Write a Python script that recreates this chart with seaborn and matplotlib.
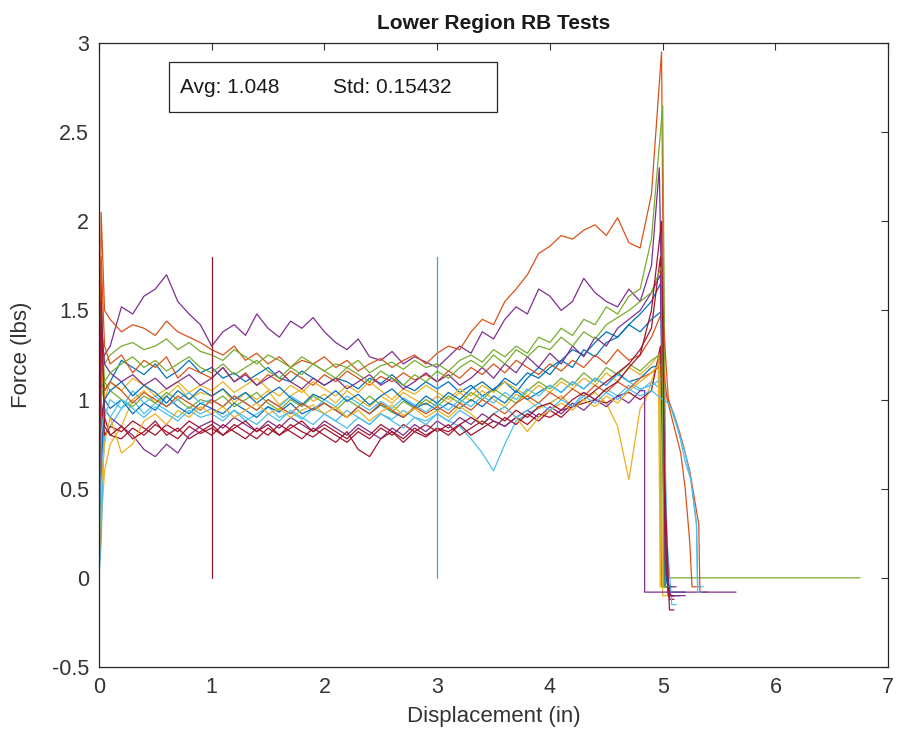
import numpy as np
import pandas as pd
import matplotlib
matplotlib.use("Agg")
import matplotlib.pyplot as plt
import seaborn as sns
from matplotlib.patches import Rectangle

# ---------------- data ----------------
X_BODY = [0.1, 0.2, 0.3, 0.4, 0.5, 0.6, 0.7, 0.8, 0.9,
          1.0, 1.1, 1.2, 1.3, 1.4, 1.5, 1.6, 1.7, 1.8, 1.9,
          2.0, 2.1, 2.2, 2.3, 2.4, 2.5, 2.6, 2.7, 2.8, 2.9,
          3.0, 3.1, 3.2, 3.3, 3.4, 3.5, 3.6, 3.7, 3.8, 3.9,
          4.0, 4.1, 4.2, 4.3, 4.4, 4.5, 4.6, 4.7, 4.8]

MATLAB_COLORS = ["#0072BD", "#D95319", "#EDB120", "#7E2F8E", "#77AC30", "#4DBEEE", "#A2142F"]

# each test: colour index, head points (x, y), body values on X_BODY, tail points (x, y)
test_color = [3, 1, 4, 0, 5, 2, 6, 0, 1, 2, 3, 4, 5, 6, 0, 1, 2, 3, 4, 5, 6]

head_x = [0.0, 0.02, 0.05]
head_y = [
    [0.0, 1.20, 1.25], [0.0, 2.05, 1.50], [0.0, 1.40, 1.20], [0.0, 1.10, 1.05],
    [0.0, 0.40, 0.80], [0.0, 0.30, 0.60], [0.0, 1.65, 0.90], [0.0, 0.90, 1.00],
    [0.0, 1.80, 1.30], [0.0, 1.20, 1.00], [0.0, 0.70, 0.95], [0.0, 1.50, 1.10],
    [0.0, 0.20, 0.90], [0.0, 1.00, 0.80], [0.0, 0.60, 1.00], [0.0, 1.30, 1.05],
    [0.0, 0.50, 0.75], [0.0, 1.45, 1.20], [0.0, 1.00, 1.10], [0.0, 0.80, 0.95],
    [0.0, 1.55, 0.85],
]

body = [
    [1.30, 1.52, 1.48, 1.58, 1.62, 1.70, 1.55, 1.48, 1.42,
     1.30, 1.38, 1.42, 1.36, 1.48, 1.40, 1.35, 1.44, 1.40, 1.46,
     1.38, 1.32, 1.28, 1.34, 1.24, 1.22, 1.27, 1.20, 1.24, 1.21,
     1.18, 1.24, 1.30, 1.26, 1.38, 1.34, 1.45, 1.52, 1.48, 1.62,
     1.58, 1.50, 1.55, 1.68, 1.60, 1.55, 1.52, 1.62, 1.55],
    [1.45, 1.38, 1.42, 1.40, 1.36, 1.44, 1.38, 1.35, 1.32,
     1.28, 1.25, 1.30, 1.22, 1.26, 1.20, 1.24, 1.18, 1.22, 1.20,
     1.24, 1.18, 1.22, 1.16, 1.20, 1.23, 1.18, 1.22, 1.25, 1.20,
     1.26, 1.30, 1.28, 1.38, 1.45, 1.42, 1.55, 1.62, 1.70, 1.82,
     1.86, 1.92, 1.90, 1.95, 1.98, 1.92, 2.02, 1.88, 1.85],
    [1.25, 1.30, 1.32, 1.28, 1.30, 1.34, 1.28, 1.32, 1.27,
     1.25, 1.22, 1.28, 1.24, 1.20, 1.25, 1.22, 1.18, 1.24, 1.20,
     1.16, 1.20, 1.18, 1.22, 1.15, 1.19, 1.21, 1.17, 1.22, 1.18,
     1.20, 1.16, 1.22, 1.25, 1.21, 1.28, 1.24, 1.30, 1.26, 1.35,
     1.32, 1.40, 1.36, 1.45, 1.42, 1.52, 1.48, 1.58, 1.62],
    [1.10, 1.22, 1.18, 1.14, 1.20, 1.12, 1.16, 1.22, 1.15,
     1.18, 1.12, 1.15, 1.10, 1.14, 1.18, 1.12, 1.10, 1.16, 1.12,
     1.08, 1.12, 1.10, 1.06, 1.12, 1.09, 1.14, 1.08, 1.05, 1.10,
     1.06, 1.10, 1.04, 1.08, 1.02, 1.06, 1.10, 1.04, 1.12, 1.18,
     1.14, 1.22, 1.18, 1.28, 1.24, 1.32, 1.35, 1.42, 1.48],
    [0.85, 0.95, 1.00, 0.92, 0.98, 0.94, 0.90, 0.96, 0.92,
     0.95, 0.90, 0.94, 0.88, 0.92, 0.96, 0.90, 0.93, 0.89, 0.95,
     0.92, 0.88, 0.94, 0.90, 0.86, 0.92, 0.89, 0.94, 0.90, 0.88,
     0.92, 0.88, 0.85, 0.78, 0.70, 0.60, 0.75, 0.88, 0.92, 0.95,
     0.98, 1.02, 0.96, 1.04, 1.00, 1.06, 1.02, 1.08, 1.05],
    [0.75, 0.85, 1.00, 1.05, 0.98, 1.02, 1.08, 1.00, 1.04,
     1.02, 1.06, 0.98, 1.04, 1.00, 1.05, 0.97, 1.02, 1.06, 0.99,
     1.03, 0.98, 1.05, 1.00, 0.96, 1.02, 0.98, 1.04, 1.00, 0.97,
     1.02, 0.98, 1.04, 0.99, 1.05, 1.00, 0.96, 1.03, 1.00, 0.95,
     0.98, 1.02, 0.96, 1.00, 1.04, 0.98, 0.85, 0.55, 0.95],
    [0.80, 0.78, 0.84, 0.80, 0.86, 0.82, 0.78, 0.85, 0.81,
     0.84, 0.80, 0.86, 0.82, 0.78, 0.84, 0.80, 0.86, 0.82, 0.79,
     0.84, 0.80, 0.76, 0.82, 0.78, 0.84, 0.80, 0.86, 0.82, 0.79,
     0.84, 0.82, 0.86, 0.80, 0.84, 0.88, 0.85, 0.90, 0.86, 0.92,
     0.90, 0.94, 0.96, 0.98, 1.00, 0.98, 1.02, 1.04, 1.00],
    [0.95, 1.00, 0.92, 0.98, 0.94, 1.02, 0.96, 0.92, 0.98,
     0.95, 0.92, 0.98, 0.94, 0.90, 0.96, 0.93, 0.98, 0.92, 0.95,
     0.98, 0.94, 0.90, 0.96, 0.92, 0.97, 0.93, 0.90, 0.95, 0.98,
     0.94, 0.98, 0.95, 1.00, 0.96, 1.02, 0.98, 1.05, 1.00, 1.04,
     1.08, 1.04, 1.10, 1.06, 1.12, 1.08, 1.15, 1.10, 1.12],
    [1.20, 1.25, 1.15, 1.22, 1.18, 1.24, 1.12, 1.18, 1.15,
     1.12, 1.18, 1.10, 1.15, 1.08, 1.14, 1.10, 1.16, 1.12, 1.08,
     1.14, 1.10, 1.16, 1.12, 1.08, 1.13, 1.10, 1.15, 1.11, 1.14,
     1.10, 1.16, 1.12, 1.18, 1.14, 1.20, 1.15, 1.22, 1.18, 1.14,
     1.20, 1.16, 1.22, 1.18, 1.25, 1.20, 1.28, 1.22, 1.25],
    [1.10, 1.05, 1.12, 1.08, 1.02, 1.06, 1.10, 1.04, 1.08,
     1.05, 1.10, 1.04, 1.08, 1.12, 1.06, 1.02, 1.08, 1.04, 1.10,
     1.06, 1.02, 1.08, 1.04, 1.10, 1.05, 1.00, 1.06, 1.03, 1.08,
     1.04, 1.00, 1.06, 1.02, 1.08, 1.04, 1.10, 1.06, 1.02, 1.08,
     1.04, 1.10, 1.06, 1.12, 1.08, 1.15, 1.10, 1.18, 1.14],
    [0.90, 0.85, 0.80, 0.72, 0.68, 0.75, 0.70, 0.80, 0.85,
     0.88, 0.84, 0.90, 0.86, 0.82, 0.88, 0.84, 0.90, 0.86, 0.82,
     0.88, 0.84, 0.80, 0.86, 0.82, 0.78, 0.84, 0.80, 0.86, 0.82,
     0.88, 0.84, 0.90, 0.86, 0.92, 0.88, 0.85, 0.90, 0.94, 0.90,
     0.96, 0.92, 0.98, 0.94, 1.00, 0.96, 1.02, 0.98, 1.05],
    [1.05, 1.00, 0.96, 1.02, 0.98, 1.04, 1.00, 0.95, 1.00,
     0.98, 1.02, 0.96, 1.00, 1.04, 0.98, 0.94, 1.00, 0.96, 1.02,
     0.98, 0.94, 1.00, 0.96, 1.02, 0.97, 0.93, 0.99, 0.95, 1.00,
     0.96, 1.02, 0.98, 1.04, 1.00, 1.06, 1.02, 0.98, 1.05, 1.10,
     1.06, 1.12, 1.08, 1.15, 1.10, 1.18, 1.14, 1.20, 1.16],
    [1.00, 0.95, 1.05, 0.98, 1.02, 0.96, 1.00, 1.04, 0.98,
     1.00, 0.96, 1.02, 0.98, 0.94, 1.00, 0.96, 1.02, 0.98, 0.94,
     1.00, 0.96, 1.02, 0.98, 0.94, 0.99, 0.95, 1.01, 0.97, 0.93,
     0.98, 0.94, 1.00, 0.96, 1.02, 0.98, 1.04, 1.00, 1.06, 1.02,
     1.08, 1.04, 1.10, 1.06, 1.12, 1.08, 1.14, 1.10, 1.06],
    [0.85, 0.82, 0.88, 0.84, 0.80, 0.86, 0.82, 0.88, 0.84,
     0.80, 0.86, 0.82, 0.78, 0.84, 0.80, 0.86, 0.82, 0.78, 0.84,
     0.80, 0.76, 0.82, 0.72, 0.68, 0.78, 0.82, 0.76, 0.82, 0.86,
     0.82, 0.86, 0.80, 0.84, 0.88, 0.84, 0.90, 0.86, 0.92, 0.88,
     0.94, 0.90, 0.96, 1.00, 1.05, 1.10, 1.15, 1.20, 1.28],
    [1.05, 1.10, 1.02, 1.08, 1.04, 0.98, 1.05, 1.00, 1.06,
     1.02, 1.06, 1.00, 1.04, 0.98, 1.03, 1.07, 1.01, 0.97, 1.03,
     1.00, 1.05, 0.99, 1.03, 0.97, 1.02, 1.06, 1.00, 0.96, 1.02,
     0.98, 1.04, 1.00, 1.06, 1.10, 1.05, 1.12, 1.08, 1.15, 1.12,
     1.18, 1.22, 1.28, 1.25, 1.32, 1.38, 1.35, 1.42, 1.38],
    [1.10, 1.05, 0.98, 1.04, 1.00, 0.96, 1.02, 0.98, 0.94,
     1.00, 0.96, 1.02, 0.98, 0.94, 1.00, 0.96, 0.92, 0.98, 0.94,
     0.98, 0.94, 0.90, 0.96, 0.92, 0.98, 0.94, 0.90, 0.96, 0.92,
     0.96, 0.92, 0.98, 0.94, 1.00, 0.96, 0.92, 0.98, 1.02, 0.98,
     1.04, 1.00, 1.06, 1.02, 1.08, 1.04, 1.10, 1.06, 1.12],
    [0.90, 0.70, 0.75, 0.88, 0.92, 0.86, 0.94, 0.90, 0.96,
     0.92, 0.96, 0.90, 0.94, 0.98, 0.92, 0.95, 0.90, 0.94, 0.97,
     0.92, 0.96, 0.90, 0.94, 0.88, 0.93, 0.97, 0.91, 0.95, 0.90,
     0.94, 0.90, 0.96, 0.92, 0.86, 0.92, 0.96, 0.90, 0.82, 0.90,
     0.94, 0.98, 0.94, 1.00, 0.96, 1.02, 0.98, 1.05, 1.10],
    [1.15, 1.10, 1.14, 1.08, 1.12, 1.06, 1.10, 1.14, 1.08,
     1.12, 1.18, 1.10, 1.14, 1.08, 1.12, 1.16, 1.10, 1.06, 1.12,
     1.08, 1.12, 1.06, 1.10, 1.14, 1.08, 1.12, 1.06, 1.10, 1.15,
     1.10, 1.14, 1.08, 1.12, 1.18, 1.12, 1.20, 1.15, 1.24, 1.18,
     1.26, 1.20, 1.30, 1.24, 1.35, 1.30, 1.40, 1.45, 1.50],
    [1.15, 1.20, 1.24, 1.18, 1.22, 1.16, 1.20, 1.24, 1.18,
     1.15, 1.20, 1.14, 1.18, 1.22, 1.16, 1.12, 1.18, 1.14, 1.20,
     1.16, 1.12, 1.18, 1.14, 1.10, 1.16, 1.12, 1.08, 1.14, 1.10,
     1.16, 1.12, 1.18, 1.22, 1.18, 1.25, 1.20, 1.28, 1.24, 1.30,
     1.28, 1.35, 1.30, 1.38, 1.34, 1.42, 1.46, 1.50, 1.55],
    [0.90, 1.00, 0.95, 0.90, 0.96, 0.92, 0.88, 0.94, 0.90,
     0.92, 0.88, 0.94, 0.90, 0.86, 0.92, 0.88, 0.94, 0.90, 0.86,
     0.92, 0.88, 0.84, 0.90, 0.86, 0.92, 0.88, 0.84, 0.90, 0.86,
     0.92, 0.88, 0.94, 0.90, 0.86, 0.92, 0.96, 0.90, 0.94, 0.98,
     0.94, 1.00, 0.96, 1.02, 0.98, 1.04, 1.00, 1.06, 1.02],
    [0.80, 0.85, 0.78, 0.82, 0.88, 0.80, 0.84, 0.78, 0.82,
     0.86, 0.80, 0.84, 0.88, 0.82, 0.86, 0.80, 0.84, 0.88, 0.82,
     0.86, 0.82, 0.78, 0.84, 0.80, 0.86, 0.82, 0.78, 0.84, 0.80,
     0.84, 0.80, 0.86, 0.90, 0.86, 0.92, 0.88, 0.94, 0.90, 0.96,
     0.98, 0.94, 1.00, 1.04, 1.00, 1.06, 1.10, 1.18, 1.25],
]

tail = [
    [(4.90, 1.75), (4.97, 2.30), (5.00, 1.20), (5.02, -0.05), (5.12, -0.05)],
    [(4.90, 2.15), (4.99, 2.95), (5.02, 0.40), (5.05, -0.10), (5.10, -0.10)],
    [(4.90, 1.90), (5.00, 2.65), (5.03, 0.20), (5.06, 0.00), (6.75, 0.00)],
    [(4.90, 1.55), (4.98, 1.65), (5.02, 0.10), (5.05, -0.08), (5.20, -0.08)],
    [(4.90, 1.10), (5.00, 1.05), (5.05, 1.00), (5.10, 0.90), (5.15, 0.80), (5.20, 0.65),
     (5.25, 0.55), (5.28, 0.40), (5.30, 0.30), (5.31, -0.05), (5.36, -0.05)],
    [(4.85, 1.00), (4.95, 1.20), (4.98, 1.25), (5.00, -0.10), (5.04, -0.10)],
    [(4.90, 1.05), (4.98, 1.30), (5.02, 0.10), (5.06, -0.12), (5.10, -0.12)],
    [(4.90, 1.18), (5.00, 1.20), (5.03, 0.00), (5.06, -0.10), (5.15, -0.10)],
    [(4.90, 1.35), (5.00, 1.50), (5.05, 1.00), (5.12, 0.88), (5.18, 0.75), (5.24, 0.60),
     (5.28, 0.45), (5.32, 0.30), (5.33, -0.08), (5.40, -0.08)],
    [(4.90, 1.20), (4.96, 1.25), (4.98, -0.05), (5.02, -0.05)],
    [(4.84, 1.05), (4.84, -0.08), (5.65, -0.08)],
    [(4.90, 1.22), (4.97, 1.25), (4.99, -0.05), (5.05, -0.05)],
    [(4.90, 1.08), (5.00, 1.12), (5.04, 0.20), (5.08, -0.15), (5.12, -0.15)],
    [(4.90, 1.40), (4.98, 1.80), (5.02, 0.50), (5.06, -0.18), (5.10, -0.18)],
    [(4.90, 1.45), (5.00, 1.50), (5.02, -0.05), (5.08, -0.05)],
    [(4.90, 1.15), (5.00, 1.20), (5.04, 1.00), (5.10, 0.85), (5.16, 0.70), (5.20, 0.50),
     (5.24, 0.20), (5.26, -0.05), (5.30, -0.05)],
    [(4.90, 1.15), (4.97, 1.20), (4.98, -0.05), (5.00, -0.05)],
    [(4.90, 1.60), (4.98, 1.70), (5.02, 0.10), (5.07, -0.10), (5.20, -0.10)],
    [(4.90, 1.60), (4.99, 1.75), (5.01, -0.05), (5.05, -0.05)],
    [(4.90, 1.05), (5.00, 1.00), (5.05, 0.98), (5.10, 0.92), (5.15, 0.80), (5.20, 0.70),
     (5.25, 0.55), (5.28, 0.40), (5.30, 0.30), (5.31, -0.08), (5.34, -0.08)],
    [(4.90, 1.50), (4.99, 2.00), (5.02, 0.30), (5.05, -0.10), (5.10, -0.10)],
]

# region markers (vertical lines at 1 in and 3 in)
marker_x = [1.0, 3.0]
marker_y = [0.0, 1.8]
marker_color = ["#8E1B2C", "#3FA9C8"]

avg_text = "Avg: 1.048"
std_text = "Std: 0.15432"

# ---------------- build table ----------------
rows = []
for i in range(len(body)):
    xs = list(head_x) + list(X_BODY) + [p[0] for p in tail[i]]
    ys = list(head_y[i]) + list(body[i]) + [p[1] for p in tail[i]]
    for j, (xx, yy) in enumerate(zip(xs, ys)):
        rows.append({"test": f"t{i}", "order": j, "x": xx, "y": yy})
for k, mx in enumerate(marker_x):
    for j, my in enumerate(marker_y):
        rows.append({"test": f"m{k}", "order": j, "x": mx, "y": my})
df = pd.DataFrame(rows)

palette = {f"t{i}": MATLAB_COLORS[c] for i, c in enumerate(test_color)}
palette.update({f"m{k}": c for k, c in enumerate(marker_color)})

# ---------------- plot ----------------
sns.set_style("white")
plt.rcParams["font.family"] = ["Liberation Sans", "DejaVu Sans"]

fig = plt.figure(figsize=(8.99, 7.44), dpi=100)
ax = fig.add_axes([0.110, 0.1035, 0.878, 0.8387])

sns.lineplot(data=df, x="x", y="y", hue="test", palette=palette, sort=False,
             estimator=None, legend=False, linewidth=0.9, ax=ax)

ax.set_xlim(0, 7)
ax.set_ylim(-0.5, 3)
ax.set_xticks([0, 1, 2, 3, 4, 5, 6, 7])
ax.set_yticks([-0.5, 0, 0.5, 1, 1.5, 2, 2.5, 3])
ax.set_yticklabels(["-0.5", "0", "0.5", "1", "1.5", "2", "2.5", "3"])
ax.tick_params(direction="in", top=True, right=True, length=5, width=0.8,
               labelsize=15.5, colors="#333333", pad=7)
for s in ax.spines.values():
    s.set_visible(True)
    s.set_color("#262626")
    s.set_linewidth(0.9)

ax.set_xlabel("Displacement (in)", fontsize=16, color="#333333", labelpad=6)
ax.set_ylabel("Force (lbs)", fontsize=16, color="#333333", labelpad=14)
ax.set_title("Lower Region RB Tests", fontsize=15, fontweight="bold", color="#1a1a1a", pad=10)

box = Rectangle((0.0887, 0.889), 0.416, 0.0806, transform=ax.transAxes,
                facecolor="white", edgecolor="#262626", linewidth=0.9, zorder=5)
ax.add_patch(box)
ax.text(0.103, 0.929, avg_text, transform=ax.transAxes, fontsize=15,
        va="center", ha="left", color="#1a1a1a", zorder=6)
ax.text(0.297, 0.929, std_text, transform=ax.transAxes, fontsize=15,
        va="center", ha="left", color="#1a1a1a", zorder=6)

fig.savefig("out.png", dpi=100)
